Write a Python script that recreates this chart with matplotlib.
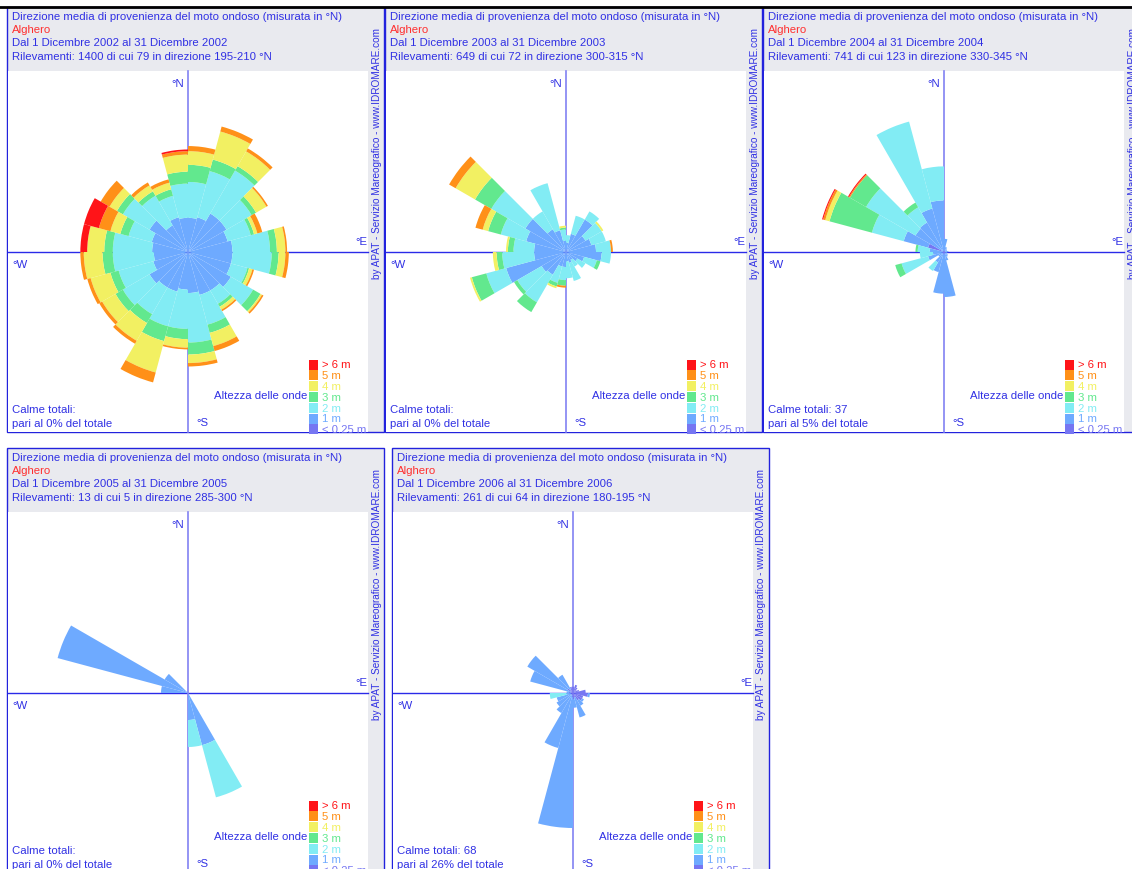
import numpy as np
import matplotlib
matplotlib.use("Agg")
from matplotlib import pyplot as plt
from matplotlib.patches import Rectangle

plt.rcParams['font.family'] = ['Liberation Sans', 'DejaVu Sans']

# classi di altezza, dal centro verso l'esterno
classi = ["< 0.25 m", "1 m", "2 m", "3 m", "4 m", "5 m", "> 6 m"]
colori = ["#7676f2", "#6eaaff", "#82ecf4", "#62e88e", "#f2f062", "#ff9018", "#ff1418"]
settori = list(range(0, 360, 15))

anni = [2002, 2003, 2004, 2005, 2006]
calme = [0, 0, 37, 0, 68]

# conteggi per settore (0-15, 15-30, ...) e classe di altezza
dic2002 = [
    [0, 20, 21, 10, 8, 3, 0], [0, 21, 28, 7, 17, 3, 0], [0, 26, 29, 3, 10, 2, 0], [0, 26, 17, 3, 7, 1, 0],
    [0, 24, 14, 2, 2, 3, 0], [0, 26, 22, 4, 5, 1, 0], [0, 26, 23, 4, 4, 2, 0], [0, 26, 10, 1, 2, 1, 0],
    [0, 29, 15, 5, 1, 1, 0], [0, 26, 9, 2, 2, 1, 0], [0, 26, 18, 5, 8, 3, 0], [0, 24, 29, 7, 5, 2, 0],
    [0, 22, 23, 6, 5, 1, 0], [0, 24, 21, 9, 19, 6, 0], [0, 24, 18, 6, 12, 2, 0], [0, 26, 18, 5, 9, 2, 0],
    [0, 21, 21, 5, 12, 2, 0], [0, 20, 24, 6, 11, 2, 0], [0, 21, 23, 5, 10, 0, 4], [0, 22, 14, 5, 6, 7, 9],
    [1, 25, 18, 4, 5, 6, 0], [0, 18, 20, 3, 4, 2, 0], [0, 21, 13, 4, 4, 2, 0], [0, 20, 20, 7, 10, 2, 1],
]
dic2003 = [
    [1, 4, 4, 0, 0, 0, 0], [0, 10, 10, 0, 0, 0, 0], [0, 20, 5, 0, 0, 0, 0], [0, 12, 10, 0, 1, 0, 0],
    [0, 14, 8, 0, 0, 0, 0], [1, 15, 8, 0, 0, 1, 0], [0, 19, 5, 0, 0, 0, 0], [0, 10, 7, 2, 0, 0, 0],
    [0, 7, 5, 0, 0, 0, 0], [0, 5, 4, 0, 0, 0, 0], [0, 6, 10, 0, 0, 0, 0], [0, 5, 9, 0, 0, 0, 0],
    [0, 8, 7, 3, 0, 1, 0], [0, 8, 9, 2, 1, 0, 0], [0, 14, 17, 6, 0, 0, 0], [0, 15, 15, 2, 0, 0, 0],
    [0, 33, 11, 8, 1, 0, 0], [0, 17, 17, 3, 2, 0, 0], [1, 16, 11, 3, 1, 0, 0], [0, 22, 14, 7, 3, 4, 0],
    [0, 25, 21, 10, 12, 4, 0], [0, 14, 11, 0, 0, 0, 0], [0, 12, 26, 0, 0, 0, 0], [0, 6, 6, 1, 1, 0, 0],
]
dic2004 = [
    [0, 12, 0, 0, 0, 0, 0], [1, 4, 0, 0, 0, 0, 0], [1, 3, 0, 0, 0, 0, 0], [1, 2, 0, 0, 0, 0, 0],
    [0, 3, 0, 0, 0, 0, 0], [1, 3, 0, 0, 0, 0, 0], [1, 2, 0, 0, 0, 0, 0], [1, 2, 0, 0, 0, 0, 0],
    [1, 3, 0, 0, 0, 0, 0], [1, 4, 0, 0, 0, 0, 0], [1, 7, 0, 0, 0, 0, 0], [2, 39, 0, 0, 0, 0, 0],
    [2, 36, 0, 0, 0, 0, 0], [1, 18, 0, 0, 0, 0, 0], [1, 10, 9, 0, 0, 0, 0], [1, 5, 0, 0, 0, 0, 0],
    [1, 14, 25, 6, 0, 0, 0], [1, 9, 12, 0, 0, 0, 0], [1, 12, 11, 2, 0, 0, 0], [15, 23, 30, 40, 4, 2, 1],
    [0, 30, 52, 17, 0, 1, 1], [1, 30, 16, 5, 0, 0, 0], [1, 40, 82, 0, 0, 0, 0], [1, 46, 31, 0, 0, 0, 0],
]
dic2005 = [[0] * 7 for _ in settori]
dic2005[10] = [0, 2, 2, 0, 0, 0, 0]
dic2005[11] = [0, 1, 1, 0, 0, 0, 0]
dic2005[18] = [0, 1, 0, 0, 0, 0, 0]
dic2005[19] = [0, 5, 0, 0, 0, 0, 0]
dic2005[20] = [0, 1, 0, 0, 0, 0, 0]
dic2006 = [
    [3, 0, 0, 0, 0, 0, 0], [4, 0, 0, 0, 0, 0, 0], [3, 0, 0, 0, 0, 0, 0], [2, 0, 0, 0, 0, 0, 0],
    [3, 0, 0, 0, 0, 0, 0], [6, 0, 0, 0, 0, 0, 0], [7, 1, 0, 0, 0, 0, 0], [5, 0, 0, 0, 0, 0, 0],
    [5, 1, 0, 0, 0, 0, 0], [4, 3, 0, 0, 0, 0, 0], [2, 10, 0, 0, 0, 0, 0], [3, 4, 0, 0, 0, 0, 0],
    [2, 62, 0, 0, 0, 0, 0], [1, 26, 0, 0, 0, 0, 0], [1, 10, 0, 0, 0, 0, 0], [1, 8, 0, 0, 0, 0, 0],
    [1, 7, 0, 0, 0, 0, 0], [1, 2, 8, 0, 0, 0, 0], [2, 1, 0, 0, 0, 0, 0], [1, 20, 0, 0, 0, 0, 0],
    [3, 22, 0, 0, 0, 0, 0], [2, 8, 0, 0, 0, 0, 0], [3, 0, 0, 0, 0, 0, 0], [3, 0, 0, 0, 0, 0, 0],
]
dati = [dic2002, dic2003, dic2004, dic2005, dic2006]

W, H = 1132, 870
BLU = "#3030e4"
GRIGIO = "#e9eaef"
posizioni = [(7, 8), (385, 8), (763, 8), (7, 449), (392, 449)]

fig = plt.figure(figsize=(W / 100, H / 100), dpi=100)
bg = fig.add_axes([0, 0, 1, 1])
bg.set_xlim(0, W)
bg.set_ylim(H, 0)
bg.axis('off')

fs = 8.2
for i, (L, T) in enumerate(posizioni):
    vals = np.array(dati[i])
    tot = int(vals.sum())
    per_sett = vals.sum(axis=1)
    j = int(np.argmax(per_sett))
    cx, cy = L + 181, T + 245

    bg.add_patch(Rectangle((L, T), 377, 425, facecolor=GRIGIO, edgecolor="#2222dd", lw=1))
    bg.add_patch(Rectangle((L + 1, T + 64), 360, 361, facecolor="white", edgecolor="none"))
    bg.plot([L + 1, L + 361], [cy, cy], color="#2a2ae8", lw=1.0)
    bg.plot([cx, cx], [T + 64, T + 425], color="#8282f2", lw=1.2)

    # intestazione
    bg.text(L + 5, T + 9, "Direzione media di provenienza del moto ondoso (misurata in °N)",
            color=BLU, fontsize=fs, va='center')
    bg.text(L + 5, T + 22, "Alghero", color="#ff3030", fontsize=fs, va='center')
    bg.text(L + 5, T + 35.5, f"Dal 1 Dicembre {anni[i]} al 31 Dicembre {anni[i]}",
            color=BLU, fontsize=fs, va='center')
    bg.text(L + 5, T + 49, f"Rilevamenti: {tot} di cui {per_sett[j]} in direzione "
            f"{settori[j]}-{settori[j] + 15} °N", color=BLU, fontsize=fs, va='center')
    bg.text(L + 369.5, T + 271, "by APAT - Servizio Mareografico - www.IDROMARE.com",
            color=BLU, fontsize=7.2, rotation=90, ha='center', va='bottom')

    # punti cardinali
    bg.text(cx - 4, cy - 169, "°N", color=BLU, fontsize=fs, ha='right', va='center')
    bg.text(L + 360, cy - 11, "°E", color=BLU, fontsize=fs, ha='right', va='center')
    bg.text(L + 5, cy + 12, "°W", color=BLU, fontsize=fs, va='center')
    bg.text(cx + 8, cy + 170, "°S", color=BLU, fontsize=fs, va='center')

    c = calme[i]
    bg.text(L + 5, cy + 157, "Calme totali:" + (f" {c}" if c else ""), color=BLU, fontsize=fs, va='center')
    bg.text(L + 5, cy + 171, f"pari al {round(100 * c / tot)}% del totale", color=BLU, fontsize=fs, va='center')

    # legenda altezze
    bg.text(cx + 119, cy + 143.5, "Altezza delle onde", color=BLU, fontsize=fs, ha='right', va='center')
    for k in range(7):
        kk = 6 - k
        y0 = cy + 107.5 + 10.8 * k
        bg.add_patch(Rectangle((cx + 121, y0), 9, 10, facecolor=colori[kk], edgecolor="none"))
        bg.text(cx + 134, y0 + 5, classi[kk], color=colori[kk], fontsize=fs, va='center')

    # rosa
    pax = fig.add_axes([(cx - 180) / W, 1 - (cy + 180) / H, 360 / W, 360 / H], projection='polar')
    pax.set_theta_zero_location('N')
    pax.set_theta_direction(-1)
    theta = np.deg2rad(settori)
    base = np.zeros(len(settori))
    for k in range(7):
        pax.bar(theta, vals[:, k], width=np.deg2rad(15), bottom=base, align='edge',
                color=colori[k], linewidth=0)
        base = base + vals[:, k]
    pax.set_ylim(0, per_sett.max() * 4 / 3)
    pax.axis('off')

bg.plot([0, W], [8, 8], color="black", lw=2)

fig.savefig("out.png", dpi=100)
